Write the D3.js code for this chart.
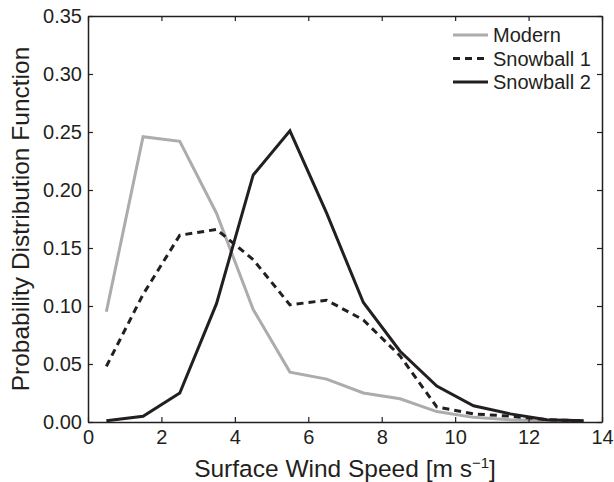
<!DOCTYPE html>
<html>
<head>
<meta charset="utf-8">
<script src="https://cdn.jsdelivr.net/npm/d3@7"></script>
<style>
  body { margin: 0; background: #fff; }
  text { font-family: "Liberation Sans", Arial, sans-serif; fill: #231f20; }
</style>
</head>
<body>
<svg id="chart" width="614" height="482"></svg>
<script>
// wind speed bin centres [m/s]
const speeds = [0.5, 1.5, 2.5, 3.5, 4.5, 5.5, 6.5, 7.5, 8.5, 9.5, 10.5, 11.5, 12.5, 13.5];
const modern = [0.095, 0.246, 0.242, 0.180, 0.097, 0.043, 0.037, 0.025, 0.020, 0.009, 0.004, 0.002, 0.001, 0.001];
const snowball1 = [0.048, 0.110, 0.161, 0.166, 0.140, 0.101, 0.105, 0.088, 0.057, 0.013, 0.007, 0.005, 0.002, 0.001];
const snowball2 = [0.001, 0.005, 0.025, 0.102, 0.213, 0.251, 0.180, 0.103, 0.061, 0.031, 0.014, 0.007, 0.002, 0.001];
const seriesNames = ["Modern", "Snowball 1", "Snowball 2"];
const xTicks = [0, 2, 4, 6, 8, 10, 12, 14];
const yTicks = [0, 0.05, 0.10, 0.15, 0.20, 0.25, 0.30, 0.35];

const svg = d3.select("#chart");
const plotL = 88, plotR = 602, plotT = 16, plotB = 422;
const ink = "#231f20";

const x = d3.scaleLinear().domain([0, 14]).range([plotL, plotR]);
const y = d3.scaleLinear().domain([0, 0.35]).range([plotB, plotT]);

// series lines
const series = [
  { name: seriesNames[0], values: modern, color: "#acacac", dash: null },
  { name: seriesNames[1], values: snowball1, color: ink, dash: "7,5" },
  { name: seriesNames[2], values: snowball2, color: ink, dash: null }
];

const line = d3.line()
    .x((d, i) => x(speeds[i]))
    .y(d => y(d));

svg.selectAll("path.series")
    .data(series)
    .enter()
    .append("path")
    .attr("class", "series")
    .attr("d", d => line(d.values))
    .attr("fill", "none")
    .attr("stroke", d => d.color)
    .attr("stroke-width", 3)
    .attr("stroke-dasharray", d => d.dash)
    .attr("stroke-linejoin", "miter");

// axes, ticks pointing inward on all four sides
const fmt = d3.format(".2f");
const xAxis = svg.append("g").attr("transform", `translate(0,${plotB})`)
    .call(d3.axisBottom(x).tickValues(xTicks).tickSizeInner(-5).tickSizeOuter(0).tickPadding(8));
const xTop = svg.append("g").attr("transform", `translate(0,${plotT})`)
    .call(d3.axisTop(x).tickValues(xTicks).tickSizeInner(-5).tickSizeOuter(0).tickFormat(""));
const yAxis = svg.append("g").attr("transform", `translate(${plotL},0)`)
    .call(d3.axisLeft(y).tickValues(yTicks).tickSizeInner(-5).tickSizeOuter(0).tickPadding(6).tickFormat(fmt));
const yRight = svg.append("g").attr("transform", `translate(${plotR},0)`)
    .call(d3.axisRight(y).tickValues(yTicks).tickSizeInner(-5).tickSizeOuter(0).tickFormat(""));

[xAxis, xTop, yAxis, yRight].forEach(g => {
  g.select(".domain").attr("stroke", ink).attr("stroke-width", 1.5);
  g.selectAll(".tick line").attr("stroke", ink).attr("stroke-width", 1.2);
  g.selectAll(".tick text").attr("font-size", 20).attr("fill", ink)
      .attr("font-family", "'Liberation Sans', Arial, sans-serif");
});

// axis titles
const xTitle = svg.append("text")
    .attr("x", (plotL + plotR) / 2)
    .attr("y", 477)
    .attr("text-anchor", "middle")
    .attr("font-size", 24.5);
xTitle.append("tspan").text("Surface Wind Speed [m s");
xTitle.append("tspan").attr("font-size", 15).attr("dy", -9).text("−1");
xTitle.append("tspan").attr("dy", 9).text("]");

svg.append("text")
    .attr("transform", `translate(29,${(plotT + plotB) / 2}) rotate(-90)`)
    .attr("text-anchor", "middle")
    .attr("font-size", 24.5)
    .text("Probability Distribution Function");

// legend
const legend = svg.append("g");
series.forEach((s, i) => {
  const ly = 35 + i * 23.5;
  legend.append("line")
      .attr("x1", 453).attr("x2", 488)
      .attr("y1", ly).attr("y2", ly)
      .attr("stroke", s.color)
      .attr("stroke-width", 3)
      .attr("stroke-dasharray", s.dash);
  legend.append("text")
      .attr("x", 493).attr("y", ly + 7)
      .attr("font-size", 20)
      .text(s.name);
});
</script>
</body>
</html>
